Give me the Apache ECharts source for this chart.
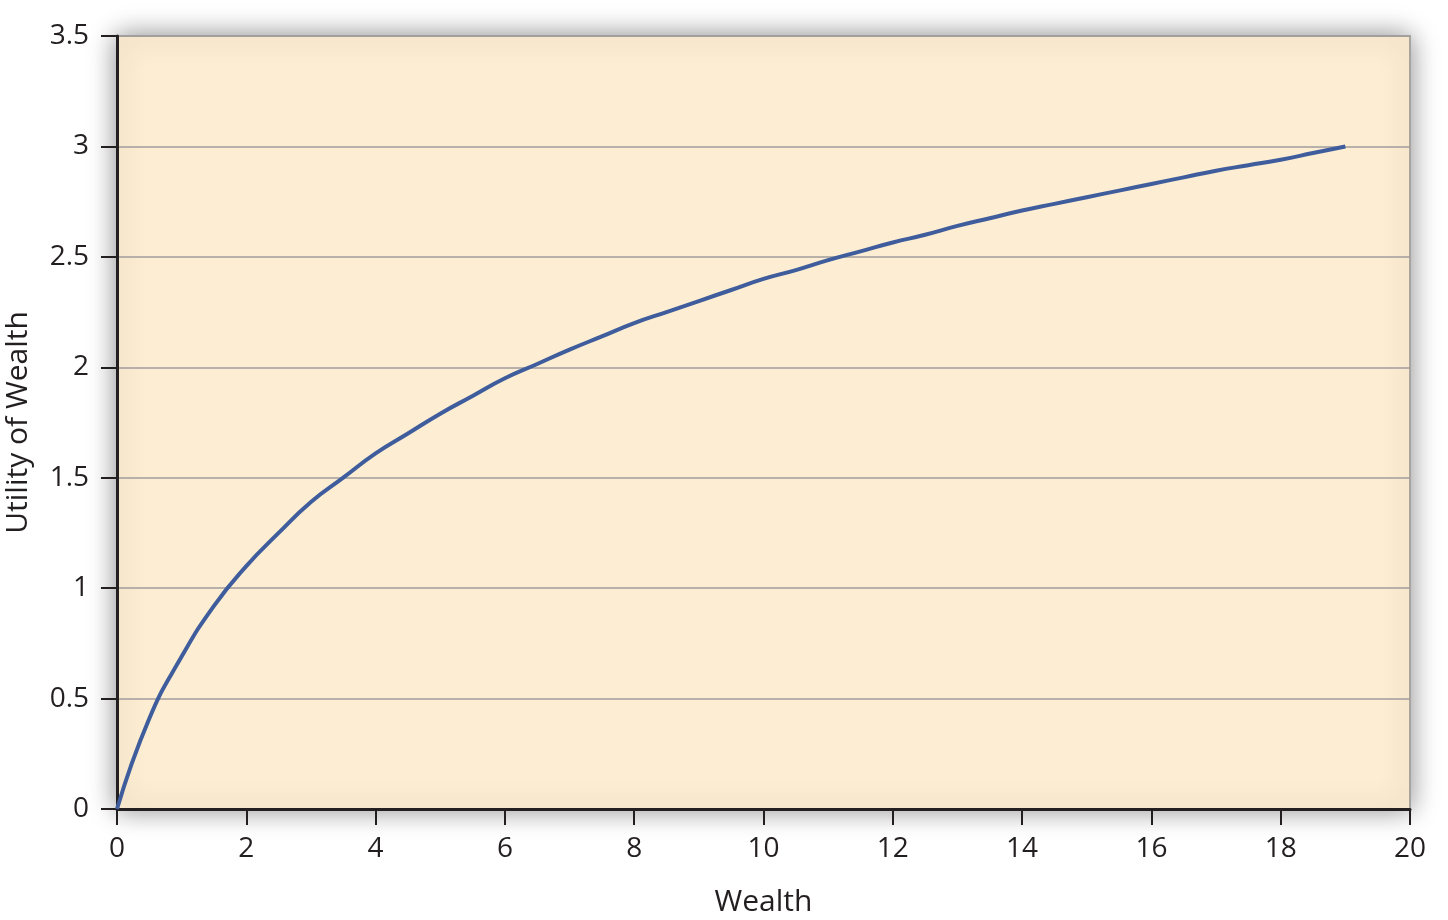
<!DOCTYPE html>
<html><head><meta charset="utf-8">
<script src="https://cdn.jsdelivr.net/npm/echarts@6/dist/echarts.min.js"></script>
<style>html,body{margin:0;padding:0;background:#fff}#c{width:1448px;height:920px}</style>
</head><body><div id="c"></div>
<script>
const wealth = [0, 0.5, 1, 1.5, 2, 2.5, 3, 3.5, 4, 4.5, 5, 5.5, 6, 6.5, 7, 7.5, 8, 8.5, 9, 9.5, 10, 10.5, 11, 11.5, 12, 12.5, 13, 13.5, 14, 14.5, 15, 15.5, 16, 16.5, 17, 17.5, 18, 18.5, 19];
const utility = [0, 0.41, 0.69, 0.92, 1.10, 1.25, 1.39, 1.50, 1.61, 1.70, 1.79, 1.87, 1.95, 2.015, 2.08, 2.14, 2.20, 2.25, 2.30, 2.35, 2.40, 2.44, 2.485, 2.525, 2.565, 2.60, 2.64, 2.675, 2.71, 2.74, 2.77, 2.80, 2.83, 2.86, 2.89, 2.915, 2.94, 2.97, 3.00];
const xTicks = [0, 2, 4, 6, 8, 10, 12, 14, 16, 18, 20];
const yTicks = [0, 0.5, 1, 1.5, 2, 2.5, 3, 3.5];
const xName = 'Wealth';
const yName = 'Utility of Wealth';

const chart = echarts.init(document.getElementById('c'));
const font = '"Open Sans", "Noto Sans", sans-serif';
chart.setOption({
  animation: false,
  grid: {
    left: 117, right: 38, top: 36, bottom: 111,
    containLabel: false, outerBoundsMode: 'none',
    show: true, backgroundColor: '#FDEED3', borderColor: '#a8a4a0', borderWidth: 2,
    shadowBlur: 26, shadowColor: 'rgba(0,0,0,0.45)', shadowOffsetX: 0, shadowOffsetY: 0
  },
  xAxis: {
    type: 'value', min: xTicks[0], max: xTicks[xTicks.length-1], interval: 2,
    name: xName, nameLocation: 'middle', nameGap: 78,
    nameTextStyle: { fontFamily: font, fontSize: 30, color: '#231f20' },
    axisLine: { show: true, onZero: false, lineStyle: { color: '#231f20', width: 3 } },
    axisTick: { show: true, length: 16, lineStyle: { color: '#231f20', width: 2 } },
    axisLabel: { fontFamily: font, fontSize: 28, color: '#231f20', margin: 26 },
    splitLine: { show: false }
  },
  yAxis: {
    type: 'value', min: yTicks[0], max: yTicks[yTicks.length-1], interval: 0.5,
    name: yName, nameLocation: 'middle', nameGap: 84, nameRotate: 90,
    nameTextStyle: { fontFamily: font, fontSize: 30, color: '#231f20' },
    axisLine: { show: true, lineStyle: { color: '#231f20', width: 3 } },
    axisTick: { show: true, length: 16, lineStyle: { color: '#231f20', width: 2 } },
    axisLabel: { fontFamily: font, fontSize: 28, color: '#231f20', margin: 28 },
    splitLine: { show: true, lineStyle: { color: '#a09c9c', width: 1.5 } }
  },
  series: [{
    type: 'line', data: wealth.map((w, i) => [w, utility[i]]),
    smooth: true, showSymbol: false,
    lineStyle: { color: '#3F5D9C', width: 4 }
  }]
});
</script></body></html>
